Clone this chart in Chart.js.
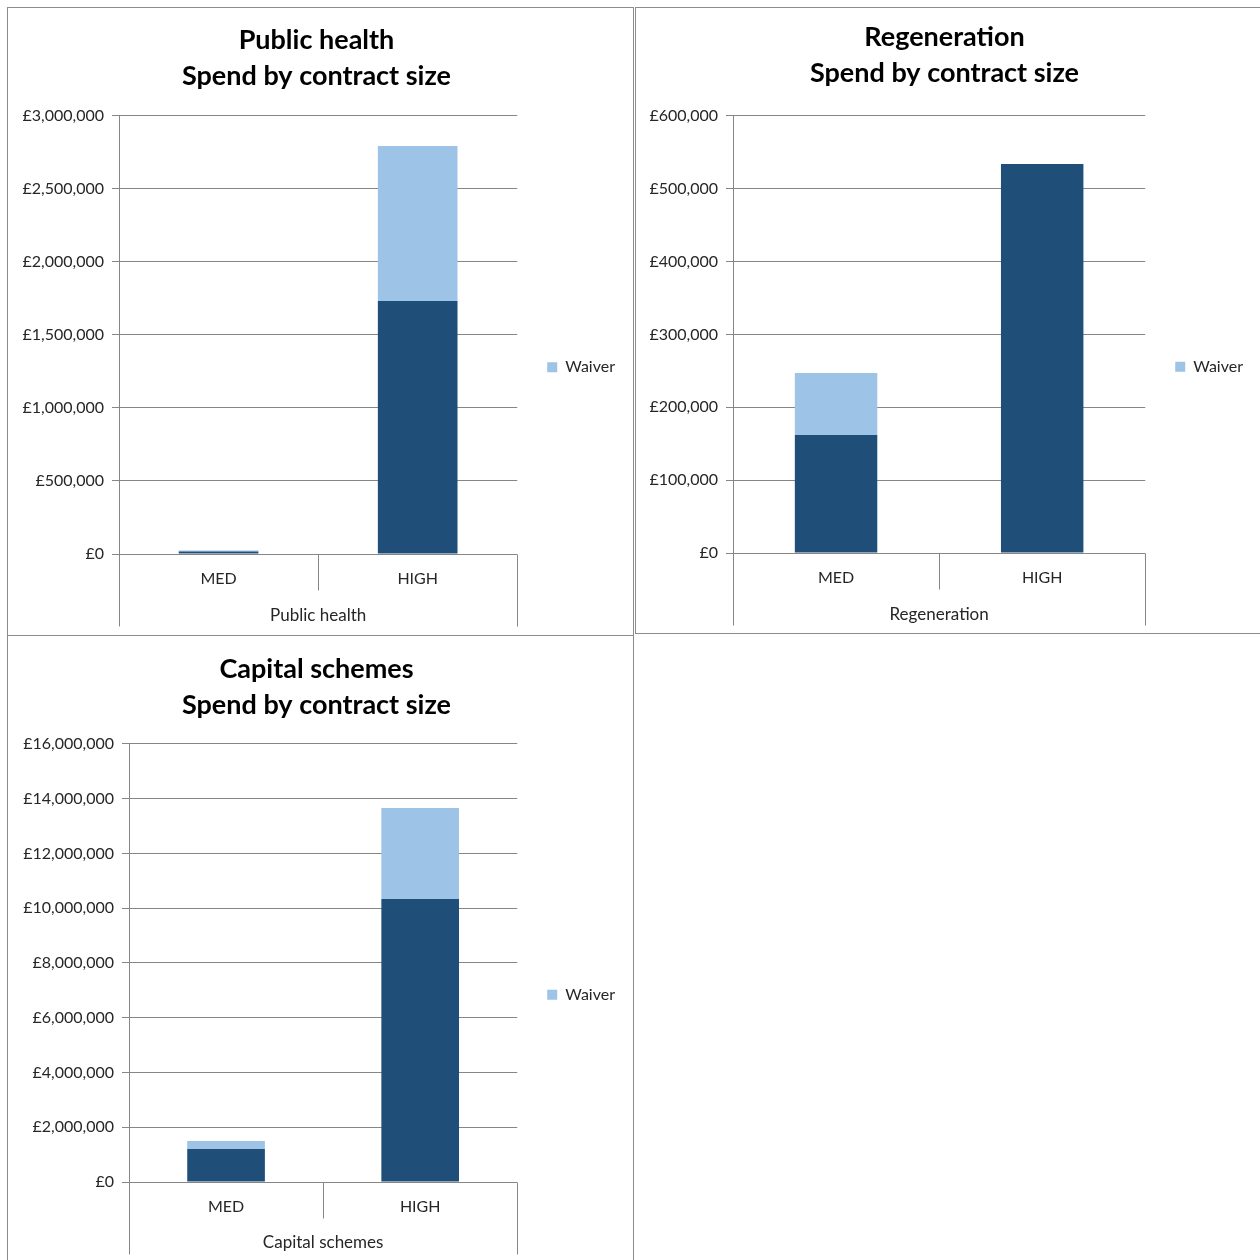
<!DOCTYPE html>
<html>
<head>
<meta charset="utf-8">
<script src="https://cdn.jsdelivr.net/npm/chart.js@4.4.0/dist/chart.umd.min.js"></script>
<style>
  body { margin: 0; background: #fff; width: 1260px; height: 1260px; overflow: hidden; position: relative; }
  .panel { position: absolute; border: 1px solid #8c8c8c; box-sizing: content-box; background: #fff; }
  .panel canvas { display: block; }
  #p1 { left: 7px; top: 7px; width: 625px; height: 627px; }
  #p2 { left: 635px; top: 7px; width: 625px; height: 625px; border-right: none; }
  #p3 { left: 7px; top: 635px; width: 625px; height: 625px; border-bottom: none; }
</style>
</head>
<body>
<div class="panel" id="p1"><canvas id="healthChart" width="625" height="627"></canvas></div>
<div class="panel" id="p2"><canvas id="regenChart" width="625" height="625"></canvas></div>
<div class="panel" id="p3"><canvas id="capitalChart" width="625" height="625"></canvas></div>
<script>
const categories = ['MED', 'HIGH'];

const healthMain = [17000, 1733000];
const healthWaiver = [7000, 1061000];
const healthTicks = { max: 3000000, step: 500000 };

const regenMain = [162000, 534000];
const regenWaiver = [85000, 0];
const regenTicks = { max: 600000, step: 100000 };

const capitalMain = [1205000, 10338000];
const capitalWaiver = [293000, 3324000];
const capitalTicks = { max: 16000000, step: 2000000 };

const darkBlue = '#1f4e79';
const lightBlue = '#9dc3e6';
const gridColor = '#868686';
const textColor = '#262626';
const fontFamily = 'Lato, "Open Sans", sans-serif';

// lines under the category axis, like a two-level axis
const groupLines = {
  id: 'groupLines',
  afterDraw(chart) {
    const x = chart.scales.x;
    const ctx = chart.ctx;
    const top = Math.round(x.top) + 0.5;
    ctx.save();
    ctx.strokeStyle = gridColor;
    ctx.lineWidth = 1;
    [x.left, x.right].forEach(px => {
      ctx.beginPath();
      ctx.moveTo(Math.round(px) + 0.5, top);
      ctx.lineTo(Math.round(px) + 0.5, top + 72);
      ctx.stroke();
    });
    const mid = Math.round((x.getPixelForValue(0) + x.getPixelForValue(1)) / 2) + 0.5;
    ctx.beginPath();
    ctx.moveTo(mid, top);
    ctx.lineTo(mid, top + 36);
    ctx.stroke();
    ctx.restore();
  }
};

function makeChart(id, title, main, waiver, ticks, opts) {
  const ctx = document.getElementById(id).getContext('2d');
  return new Chart(ctx, {
    type: 'bar',
    data: {
      labels: categories,
      datasets: [{
        label: 'Spend',
        data: main,
        backgroundColor: darkBlue,
        categoryPercentage: 1,
        barPercentage: 0.4
      }, {
        label: 'Waiver',
        data: waiver,
        backgroundColor: lightBlue,
        categoryPercentage: 1,
        barPercentage: 0.4
      }]
    },
    options: {
      responsive: false,
      animation: false,
      layout: { padding: { right: opts.padRight, bottom: opts.padBottom } },
      plugins: {
        title: {
          display: true,
          text: [title, 'Spend by contract size'],
          color: '#000',
          font: { family: fontFamily, size: 27, weight: 'bold', lineHeight: 1.333 },
          padding: { top: opts.titleTop, bottom: opts.titleBottom }
        },
        legend: {
          position: 'right',
          title: { display: true, text: '', font: { size: 12 }, padding: { top: 0, bottom: 82 } },
          labels: {
            filter: item => item.text === 'Waiver',
            boxWidth: 10,
            boxHeight: 10,
            padding: 30,
            color: textColor,
            font: { family: fontFamily, size: 16 }
          }
        },
        tooltip: { enabled: false }
      },
      scales: {
        x: {
          stacked: true,
          afterFit: scale => { scale.height = opts.xHeight; },
          grid: { display: false, drawTicks: false },
          border: { display: false },
          ticks: { color: textColor, padding: 15, font: { family: fontFamily, size: 16 } },
          title: {
            display: true,
            text: title,
            color: textColor,
            padding: { top: 4, bottom: 4 },
            font: { family: fontFamily, size: 17 }
          }
        },
        y: {
          stacked: true,
          min: 0,
          max: ticks.max,
          afterFit: scale => { scale.width = opts.yWidth; },
          grid: { color: gridColor, tickLength: 7, tickColor: gridColor },
          border: { color: gridColor },
          ticks: {
            stepSize: ticks.step,
            padding: 8,
            color: textColor,
            font: { family: fontFamily, size: 16 },
            callback: v => '£' + v.toLocaleString('en-GB')
          }
        }
      }
    },
    plugins: [groupLines]
  });
}

makeChart('healthChart', 'Public health', healthMain, healthWaiver, healthTicks,
  { yWidth: 111, padRight: 8, padBottom: 5, xHeight: 76, titleTop: 14, titleBottom: 22 });
makeChart('regenChart', 'Regeneration', regenMain, regenWaiver, regenTicks,
  { yWidth: 97, padRight: 8, padBottom: 4, xHeight: 76, titleTop: 11, titleBottom: 25 });
makeChart('capitalChart', 'Capital schemes', capitalMain, capitalWaiver, capitalTicks,
  { yWidth: 121, padRight: 8, padBottom: 4, xHeight: 75, titleTop: 15, titleBottom: 21 });
</script>
</body>
</html>
